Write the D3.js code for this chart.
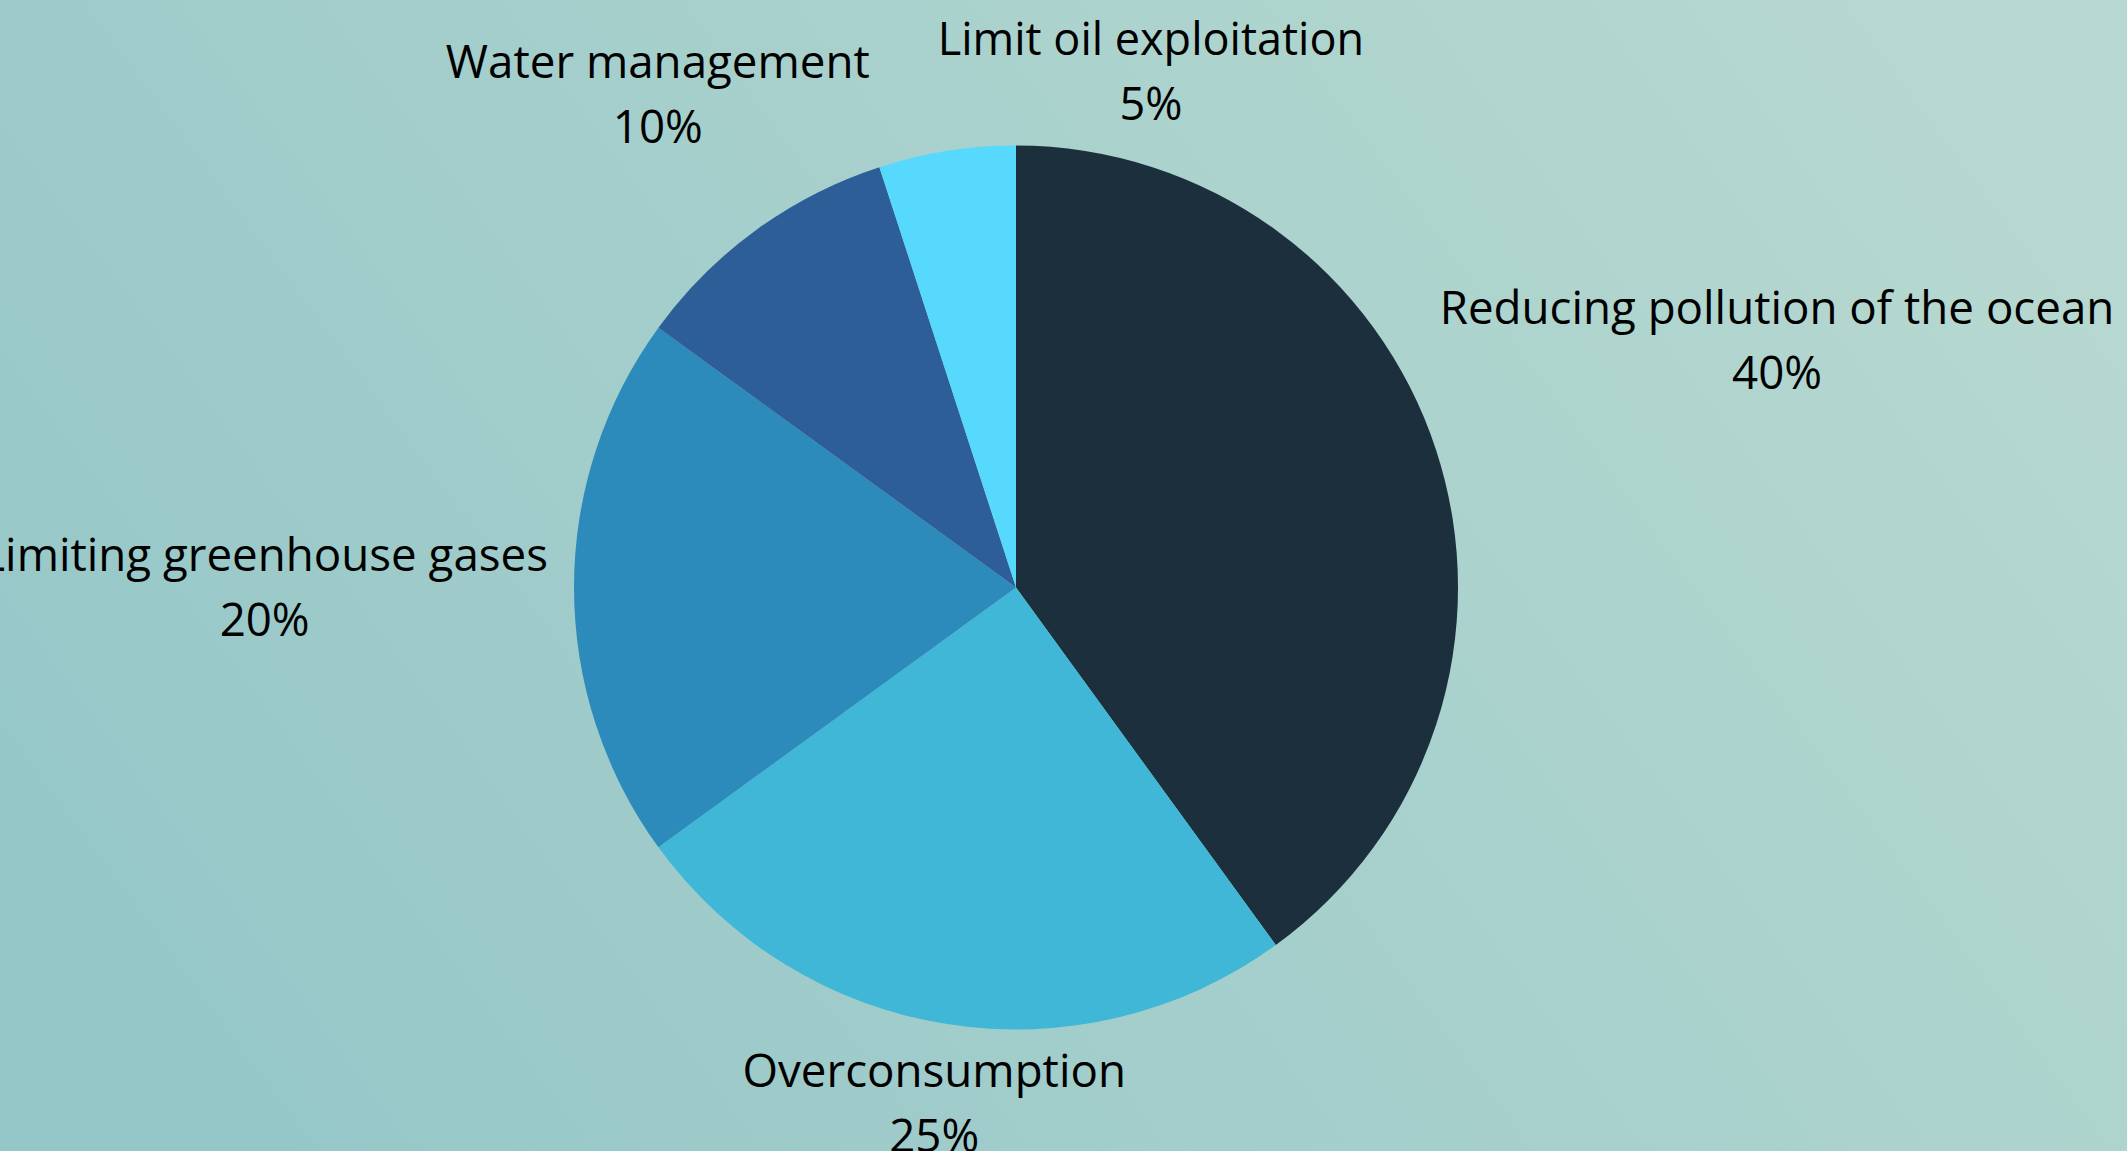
<!DOCTYPE html>
<html>
<head>
<meta charset="utf-8">
<script src="https://cdn.jsdelivr.net/npm/d3@7"></script>
<style>
  html, body { margin: 0; padding: 0; overflow: hidden; }
  text { font-family: "Open Sans", sans-serif; fill: #000; }
</style>
</head>
<body>
<svg id="chart" width="2127" height="1151"></svg>
<script>
// data
let categories = ["Reducing pollution of the ocean", "Overconsumption", "Limiting greenhouse gases", "Water management", "Limit oil exploitation"];
let shares = [40, 25, 20, 10, 5];
let colors = ["#1c2f3c", "#41b7d7", "#2c8bbb", "#2d5e97", "#56d9fc"];

const width = 2127, height = 1151;
const cx = 1016, cy = 587.5, radius = 442;
const fontSize = 45.7, lineGap = 65, capH = 45 * 0.71;
const labelGap = 26, labelPad = 68;

let svg = d3.select("#chart");

// background gradient
let defs = svg.append("defs");
let grad = defs.append("linearGradient").attr("id", "bg")
    .attr("x1", 0).attr("y1", 0.7).attr("x2", 1).attr("y2", 0.3);
grad.append("stop").attr("offset", 0).attr("stop-color", "#96c7c8");
grad.append("stop").attr("offset", 1).attr("stop-color", "#b6d8d0");
svg.append("rect").attr("width", width).attr("height", height).attr("fill", "url(#bg)");

let pie = d3.pie().sort(null).value(d => d);
let arcs = pie(shares);
let arc = d3.arc().innerRadius(0).outerRadius(radius);

let g = svg.append("g").attr("transform", `translate(${cx},${cy})`);

g.selectAll("path.slice")
    .data(arcs)
    .enter().append("path")
    .attr("class", "slice")
    .attr("d", arc)
    .attr("fill", (d, i) => colors[i]);

// labels: two-line blocks placed on the mid-angle ray, kept a fixed gap off the rim
let labels = g.selectAll("g.label")
    .data(arcs)
    .enter().append("g")
    .attr("class", "label");

// the small oil label is set a touch smaller in the original
let sizeOf = i => i === 4 ? 45 : fontSize;

labels.append("text")
    .attr("text-anchor", "middle")
    .attr("font-size", (d, i) => sizeOf(i))
    .attr("y", 0)
    .text((d, i) => categories[i]);
labels.append("text")
    .attr("text-anchor", "middle")
    .attr("font-size", (d, i) => sizeOf(i))
    .attr("y", lineGap)
    .text((d, i) => shares[i] + "%");

function boxDist(b) {
    let nx = Math.max(b.x0, Math.min(0, b.x1));
    let ny = Math.max(b.y0, Math.min(0, b.y1));
    return Math.hypot(nx, ny);
}

let boxes = [];
labels.each(function (d, i) {
    let w = 0;
    d3.select(this).selectAll("text").each(function () {
        w = Math.max(w, this.getComputedTextLength());
    });
    let h = lineGap + capH;
    let a = (d.startAngle + d.endAngle) / 2;
    let ux = Math.sin(a), uy = -Math.cos(a);
    let lo = 0, hi = 2000;
    for (let k = 0; k < 60; k++) {
        let m = (lo + hi) / 2;
        let b = {x0: ux * m - w / 2, x1: ux * m + w / 2, y0: uy * m - h / 2, y1: uy * m + h / 2};
        if (boxDist(b) < radius + labelGap) lo = m; else hi = m;
    }
    let bx = ux * lo, by = uy * lo;
    let box = {x0: bx - w / 2, x1: bx + w / 2, y0: by - h / 2, y1: by + h / 2};
    // push sideways if it runs into a label already placed
    boxes.forEach(o => {
        let overlapY = box.y0 < o.y1 && box.y1 > o.y0;
        if (overlapY && box.x0 < o.x1 + labelPad && box.x1 > o.x0 - labelPad) {
            let shift = (bx >= (o.x0 + o.x1) / 2) ? (o.x1 + labelPad - box.x0) : (o.x0 - labelPad - box.x1);
            bx += shift; box.x0 += shift; box.x1 += shift;
        }
    });
    boxes.push(box);
    d3.select(this).attr("transform", `translate(${bx},${by - h / 2 + capH})`);
});
</script>
</body>
</html>
